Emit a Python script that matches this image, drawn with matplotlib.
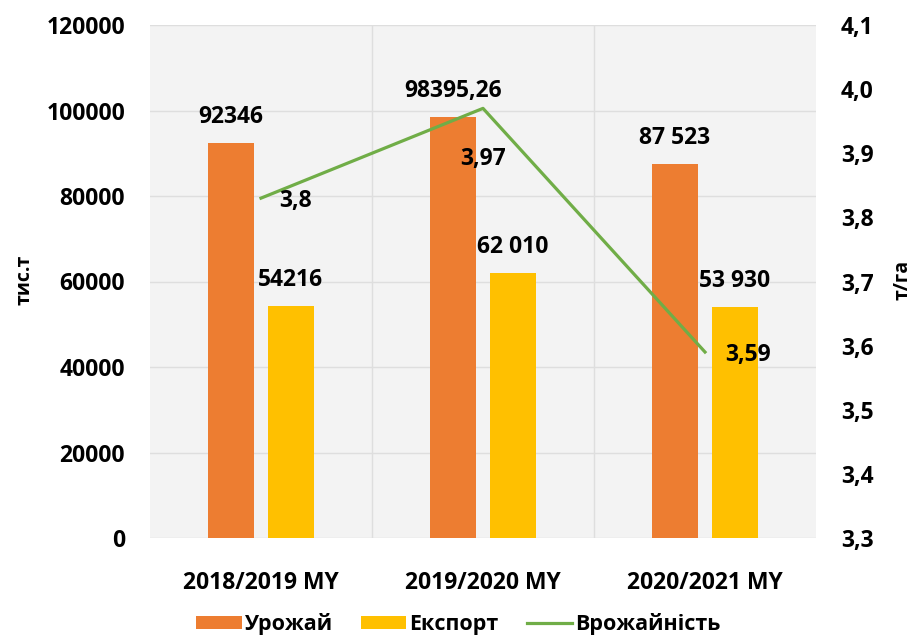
import matplotlib
matplotlib.use('Agg')
import matplotlib.pyplot as plt
import numpy as np

plt.rcParams['font.family'] = ['Open Sans', 'DejaVu Sans']
plt.rcParams['font.weight'] = 'bold'

# data
seasons = ['2018/2019 MY', '2019/2020 MY', '2020/2021 MY']
harvest = [92346, 98395.26, 87523]
export = [54216, 62010, 53930]
yield_t = [3.83, 3.97, 3.59]
harvest_labels = ['92346', '98395,26', '87 523']
export_labels = ['54216', '62 010', '53 930']
yield_labels = ['3,8', '3,97', '3,59']
left_ticks = [0, 20000, 40000, 60000, 80000, 100000, 120000]
right_ticks = [3.3, 3.4, 3.5, 3.6, 3.7, 3.8, 3.9, 4.0, 4.1]

c_orange = '#ED7D31'
c_yellow = '#FFC000'
c_green = '#70AD47'
fs = 16.5

fig = plt.figure(figsize=(9.17, 6.37), dpi=100)
ax = fig.add_axes([150 / 917, 1 - 538 / 637, 666 / 917, 513 / 637])
ax2 = ax.twinx()

x = np.arange(len(seasons))
w = 0.21
off = 0.135

ax.set_facecolor('#F3F3F3')
for y in left_ticks:
    ax.axhline(y, color='#DEDEDE', lw=1, zorder=0)
for b in [0.5, 1.5]:
    ax.axvline(b, color='#DEDEDE', lw=1, zorder=0)

b1 = ax.bar(x - off, harvest, w, color=c_orange, label='Урожай', zorder=2)
b2 = ax.bar(x + off, export, w, color=c_yellow, label='Експорт', zorder=2)

for xi, v, t in zip(x - off, harvest, harvest_labels):
    ax.annotate(t, (xi, v), xytext=(0, 26), textcoords='offset pixels',
                ha='center', va='center', fontsize=fs, fontweight='bold')
for xi, v, t in zip(x + off, export, export_labels):
    ax.annotate(t, (xi, v), xytext=(0, 26), textcoords='offset pixels',
                ha='center', va='center', fontsize=fs, fontweight='bold')

ln, = ax2.plot(x, yield_t, color=c_green, lw=2.3, label='Врожайність', zorder=3)
line_offsets = [(35, -3), (0, -51), (43, -3)]
for xi, v, t, o in zip(x, yield_t, yield_labels, line_offsets):
    ax2.annotate(t, (xi, v), xytext=o, textcoords='offset pixels',
                 ha='center', va='center', fontsize=fs, fontweight='bold')

ax.set_xlim(-0.5, 2.5)
ax.set_ylim(0, 120000)
ax2.set_ylim(3.3, 4.1)
ax.set_xticks(x)
ax.set_xticklabels(seasons, fontsize=fs, fontweight='bold')
ax.set_yticks(left_ticks)
ax.set_yticklabels([str(t) for t in left_ticks], fontsize=fs, fontweight='bold')
ax2.set_yticks(right_ticks)
ax2.set_yticklabels([f'{t:.1f}'.replace('.', ',') for t in right_ticks],
                    fontsize=fs, fontweight='bold')
ax.tick_params(axis='x', length=0, pad=24)
ax.tick_params(axis='y', length=0, pad=18)
ax2.tick_params(axis='y', length=0, pad=18)
for a in (ax, ax2):
    for s in a.spines.values():
        s.set_visible(False)

fig.text(24 / 917, 1 - 280 / 637, 'тис.т', rotation=90, ha='center', va='center',
         fontsize=14, fontweight='bold')
fig.text(903 / 917, 1 - 280 / 637, 'т/га', rotation=90, ha='center', va='center',
         fontsize=14, fontweight='bold')

fig.legend(handles=[b1, b2, ln], loc='center', bbox_to_anchor=(0.5, 1 - 624 / 637),
           ncol=3, frameon=False, fontsize=15.5, handlelength=2.1, handleheight=0.55,
           handletextpad=0.15, columnspacing=1.3)

fig.savefig('out.png', dpi=100)
